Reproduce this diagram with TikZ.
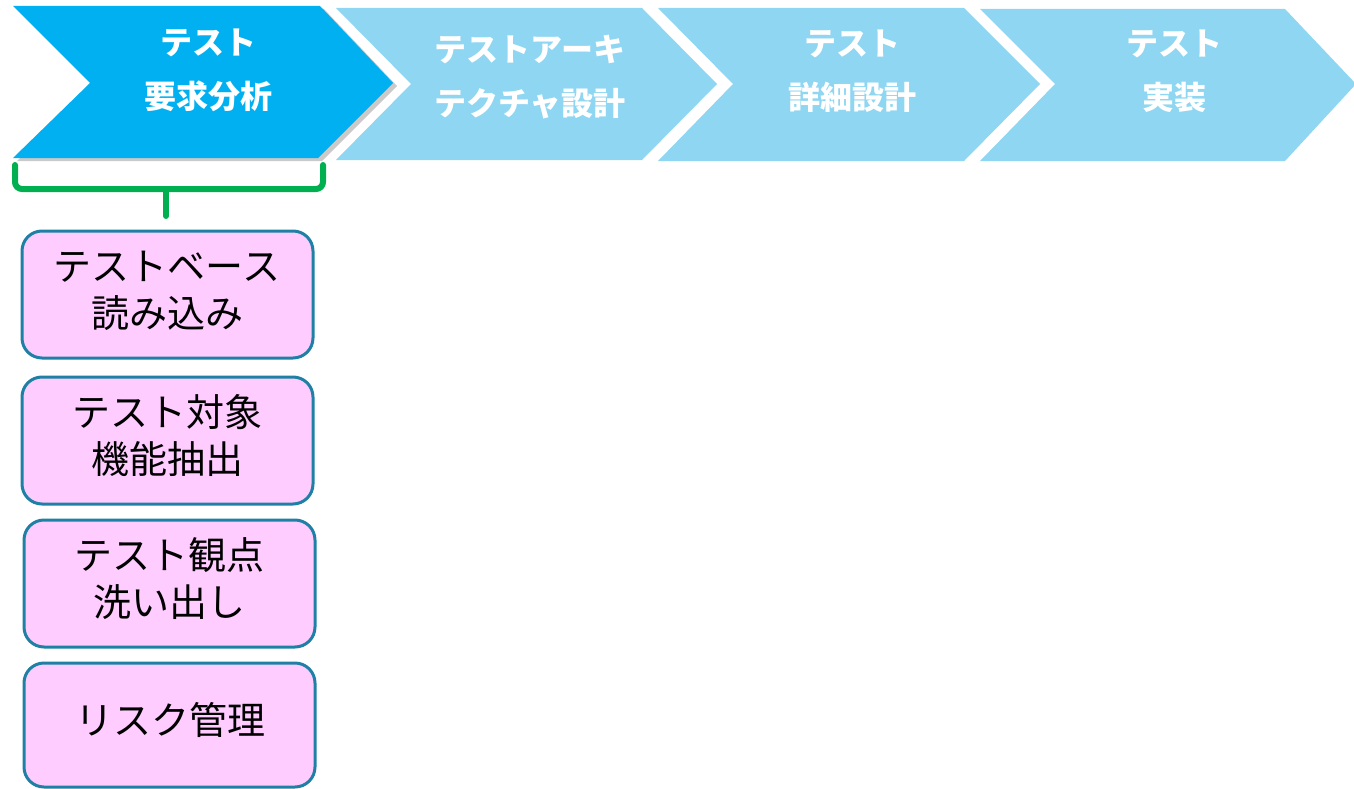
\documentclass[tikz,border=0pt]{standalone}
\usepackage{fontspec}
\newfontfamily\jp{Noto Sans CJK JP}
\usetikzlibrary{shadows}
\definecolor{chevA}{RGB}{0,176,240}
\definecolor{chevB}{RGB}{142,214,241}
\definecolor{boxfill}{RGB}{255,204,255}
\definecolor{boxline}{RGB}{31,128,166}
\definecolor{brgreen}{RGB}{0,176,80}
\tikzset{
  chevtext/.style={text=white, align=center, font=\jp\bfseries\fontsize{32}{54}\selectfont, inner sep=0pt},
  taskbox/.style={draw=boxline, line width=3pt, fill=boxfill, rounded corners=20pt},
  tasktext/.style={text=black, align=center, font=\jp\fontsize{38}{47}\selectfont, inner sep=0pt},
  bracket/.style={draw=brgreen, line width=6pt, rounded corners=7pt, line cap=round}
}
\begin{document}
\begin{tikzpicture}[x=1pt,y=-1pt]
\useasboundingbox (0,0) rectangle (1354,789);
% chevrons
\fill[chevB] (336,8) -- (642,8) -- (717,84) -- (642,160) -- (336,160) -- (411,84) -- cycle;
\fill[chevB] (658,8) -- (964,8) -- (1040,84) -- (964,161) -- (658,161) -- (733,84) -- cycle;
\fill[chevB] (980,9) -- (1285,9) -- (1356,84) -- (1285,161) -- (980,161) -- (1055,84) -- cycle;
\fill[chevA, drop shadow={shadow xshift=4pt, shadow yshift=-3pt, opacity=0.35, fill=black!60}]
  (13,6) -- (320,6) -- (393,83) -- (318,158) -- (13,158) -- (90,83) -- cycle;
\node[chevtext] (c1) at (208,70) {テスト\\要求分析};
\node[chevtext] (c2) at (530,77) {テストアーキ\\テクチャ設計};
\node[chevtext] (c3) at (852,71) {テスト\\詳細設計};
\node[chevtext] (c4) at (1174,71) {テスト\\実装};
% bracket
\coordinate (bl) at (15,165);
\coordinate (br) at (323,165);
\coordinate (bm) at (166,216);
\draw[bracket] (bl) -- (15,189) -- (323,189) -- (br);
\draw[bracket, rounded corners=4pt] (166,189) -- (bm);
% boxes
\draw[taskbox] (22,231) rectangle (313,358);
\draw[taskbox] (22,377) rectangle (313,504);
\draw[taskbox] (24,520) rectangle (315,647);
\draw[taskbox] (24,663) rectangle (315,787);
\node[tasktext] (t1) at (167,291) {テストベース\\読み込み};
\node[tasktext] (t2) at (167,436) {テスト対象\\機能抽出};
\node[tasktext] (t3) at (169,579) {テスト観点\\洗い出し};
\node[tasktext] (t4) at (170,720) {リスク管理};
\end{tikzpicture}
\end{document}
